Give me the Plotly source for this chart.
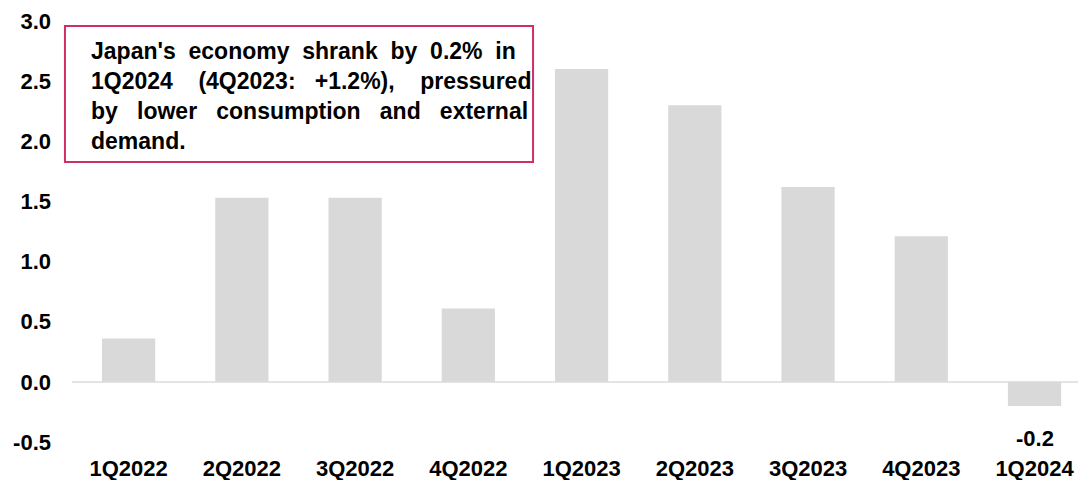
import plotly.graph_objects as go

# Japan real GDP growth by quarter (%)
quarters = ["1Q2022", "2Q2022", "3Q2022", "4Q2022", "1Q2023",
            "2Q2023", "3Q2023", "4Q2023", "1Q2024"]
gdp_growth = [0.36, 1.53, 1.53, 0.61, 2.60, 2.30, 1.62, 1.21, -0.2]

y_ticks = [-0.5, 0.0, 0.5, 1.0, 1.5, 2.0, 2.5, 3.0]

note_lines = [
    "Japan's economy shrank by 0.2% in",
    "1Q2024 (4Q2023: +1.2%), pressured",
    "by lower consumption and external",
    "demand.",
]
# extra spaces per word gap, to spread each line across the box width
note_gap_pad = [
    [1, 1, 1, 1, 1, 1],
    [3, 2, 3],
    [2, 2, 2, 2],
    [],
]

FONT = "Liberation Sans, Arial, sans-serif"
BAR_COLOR = "#d9d9d9"
BOX_COLOR = "#d12d66"


def spread(line, pads):
    words = line.split(" ")
    out = words[0]
    for w, p in zip(words[1:], pads):
        out += " " + "&nbsp;" * p + w
    return out


fig = go.Figure(
    go.Bar(
        x=quarters,
        y=gdp_growth,
        marker=dict(color=BAR_COLOR, line=dict(width=0)),
        width=0.47,
        hoverinfo="x+y",
    )
)

# value label under the latest (negative) quarter
last_q, last_v = quarters[-1], gdp_growth[-1]
fig.add_annotation(
    x=last_q, y=last_v, xref="x", yref="y",
    text=f"<b>{last_v:.1f}</b>", showarrow=False,
    yanchor="top", yshift=-18,
    font=dict(family=FONT, size=22, color="#000000"),
)

# commentary box
fig.add_shape(
    type="rect", xref="paper", yref="paper",
    x0=-0.007, x1=0.4583, y0=0.665, y1=0.988,
    line=dict(color=BOX_COLOR, width=2), fillcolor="rgba(0,0,0,0)",
    layer="above",
)
fig.add_annotation(
    xref="paper", yref="paper", x=0.0165, y=0.822,
    xanchor="left", yanchor="middle", align="left",
    text="<br>".join(f"<b>{spread(t, p)}</b>"
                     for t, p in zip(note_lines, note_gap_pad)),
    showarrow=False,
    font=dict(family=FONT, size=23, color="#000000"),
)

fig.update_layout(
    width=1079, height=480,
    margin=dict(l=72, r=1, t=21, b=38, autoexpand=False),
    paper_bgcolor="white", plot_bgcolor="white",
    showlegend=False,
    font=dict(family=FONT, size=22, color="#000000"),
)

fig.update_xaxes(
    range=[-0.5, 8.384], automargin=False,
    showgrid=False, zeroline=False, showline=False,
    ticks="", ticklabelstandoff=11,
    tickfont=dict(family=FONT, size=22, color="#000000", weight="bold"),
)
fig.update_yaxes(
    range=[-0.5, 3.0], automargin=False,
    tickvals=y_ticks, ticktext=[f"{v:.1f}" for v in y_ticks],
    showgrid=False, showline=False,
    zeroline=True, zerolinecolor="#e4e4e4", zerolinewidth=2,
    ticks="", ticklabelstandoff=20,
    tickfont=dict(family=FONT, size=22, color="#000000", weight="bold"),
)

fig.write_html("out.html")
